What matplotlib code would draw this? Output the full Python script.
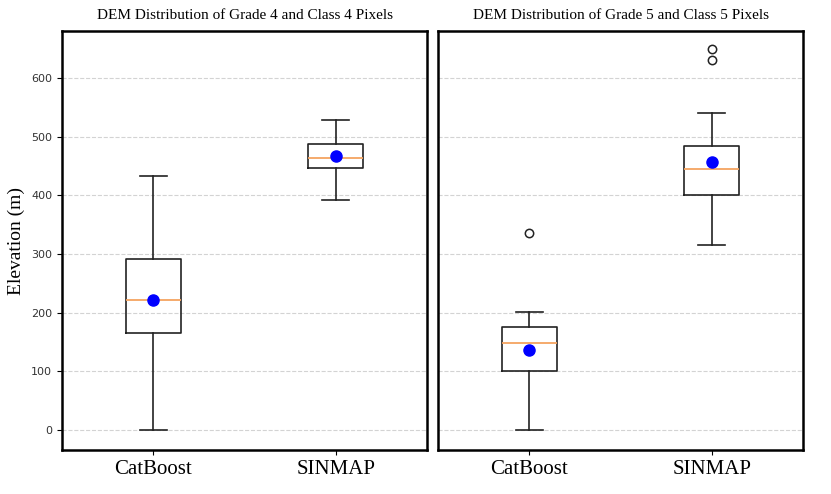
import numpy as np
import matplotlib
matplotlib.use('Agg')
import matplotlib.pyplot as plt

methods = ['CatBoost', 'SINMAP']
titles = ['DEM Distribution of Grade 4 and Class 4 Pixels',
          'DEM Distribution of Grade 5 and Class 5 Pixels']

# box stats: [CatBoost, SINMAP]
g4_low = [0, 392]
g4_q1 = [165, 447]
g4_med = [222, 464]
g4_q3 = [291, 487]
g4_high = [433, 528]
g4_mean = [222, 467]
g4_fliers = [[], []]

g5_low = [0, 315]
g5_q1 = [100, 400]
g5_med = [148, 445]
g5_q3 = [176, 484]
g5_high = [201, 540]
g5_mean = [137, 457]
g5_fliers = [[336], [631, 649]]

serif = ['Times New Roman', 'Liberation Serif', 'DejaVu Serif']


def make_stats(low, q1, med, q3, high, mean, fliers):
    stats = []
    for i in range(len(methods)):
        stats.append({'whislo': low[i], 'q1': q1[i], 'med': med[i], 'q3': q3[i],
                      'whishi': high[i], 'mean': mean[i], 'fliers': fliers[i],
                      'label': methods[i]})
    return stats


fig = plt.figure(figsize=(8.31, 4.94), dpi=100)
ax1 = fig.add_axes([62 / 831, 1 - 450 / 494, 365 / 831, 419 / 494])
ax2 = fig.add_axes([438 / 831, 1 - 450 / 494, 365 / 831, 419 / 494])

all_stats = [make_stats(g4_low, g4_q1, g4_med, g4_q3, g4_high, g4_mean, g4_fliers),
             make_stats(g5_low, g5_q1, g5_med, g5_q3, g5_high, g5_mean, g5_fliers)]

for ax, stats, title in zip([ax1, ax2], all_stats, titles):
    ax.bxp(stats, positions=[1, 2], widths=0.3, showmeans=True,
           boxprops=dict(color='#222222', linewidth=1.2),
           whiskerprops=dict(color='#222222', linewidth=1.2),
           capprops=dict(color='#222222', linewidth=1.2),
           medianprops=dict(color='#f4a460', linewidth=1.3),
           meanprops=dict(marker='o', markerfacecolor='blue', markeredgecolor='blue',
                          markersize=8),
           flierprops=dict(marker='o', markerfacecolor='none', markeredgecolor='#222222',
                           markersize=6, markeredgewidth=1.1))
    ax.set_xlim(0.5, 2.5)
    ax.set_ylim(-34, 680)
    ax.set_yticks([0, 100, 200, 300, 400, 500, 600])
    ax.yaxis.grid(True, linestyle='--', color='#d3d3d3', linewidth=0.8)
    ax.set_axisbelow(True)
    ax.set_xticks([1, 2])
    ax.set_xticklabels(methods, fontsize=15, family=serif)
    ax.tick_params(axis='y', labelsize=8, labelcolor='#333333')
    ax.set_title(title, fontsize=11, family=serif, pad=9)
    for sp in ax.spines.values():
        sp.set_linewidth(1.8)

ax1.set_ylabel('Elevation (m)', fontsize=14, family=serif)
ax1.yaxis.set_label_coords(-0.1, 0.5)
ax2.tick_params(axis='y', labelleft=False, left=False)

fig.savefig('out.png', dpi=100)
